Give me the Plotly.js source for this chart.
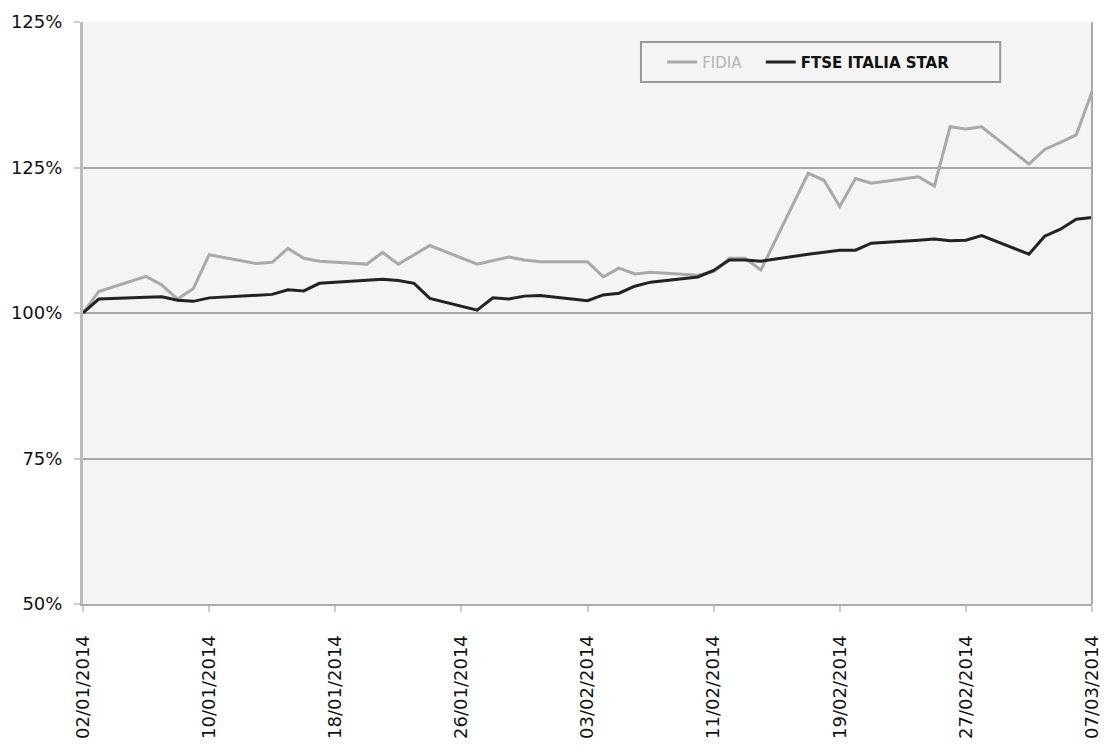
<!DOCTYPE html>
<html>
<head>
<meta charset="utf-8">
<script src="https://cdn.plot.ly/plotly-3.0.1.min.js"></script>
<style>
html,body{margin:0;padding:0;background:#ffffff;}
#chart{width:1107px;height:756px;}
</style>
</head>
<body>
<div id="chart"></div>
<script>
const dates = [
 "2014-01-02","2014-01-03","2014-01-06","2014-01-07","2014-01-08","2014-01-09","2014-01-10",
 "2014-01-13","2014-01-14","2014-01-15","2014-01-16","2014-01-17",
 "2014-01-20","2014-01-21","2014-01-22","2014-01-23","2014-01-24",
 "2014-01-27","2014-01-28","2014-01-29","2014-01-30","2014-01-31",
 "2014-02-03","2014-02-04","2014-02-05","2014-02-06","2014-02-07",
 "2014-02-10","2014-02-11","2014-02-12","2014-02-13","2014-02-14",
 "2014-02-17","2014-02-18","2014-02-19","2014-02-20","2014-02-21",
 "2014-02-24","2014-02-25","2014-02-26","2014-02-27","2014-02-28",
 "2014-03-03","2014-03-04","2014-03-05","2014-03-06","2014-03-07"
];
const fidia = [
 100.0,103.7,106.3,104.8,102.4,104.2,110.0,
 108.5,108.7,111.1,109.4,108.9,
 108.4,110.4,108.4,110.0,111.6,
 108.4,109.0,109.6,109.1,108.8,
 108.8,106.2,107.7,106.7,107.0,
 106.5,107.1,109.4,109.4,107.4,
 124.0,122.8,118.3,123.1,122.3,
 123.4,121.8,132.0,131.6,132.0,
 125.6,128.1,129.3,130.6,138.0
];
const ftseStar = [
 100.0,102.4,102.7,102.8,102.2,102.0,102.6,
 103.1,103.2,104.0,103.8,105.1,
 105.6,105.8,105.6,105.1,102.5,
 100.5,102.6,102.4,102.9,103.0,
 102.1,103.1,103.4,104.6,105.3,
 106.2,107.3,109.1,109.1,108.9,
 110.1,110.5,110.8,110.8,112.0,
 112.5,112.7,112.4,112.5,113.3,
 110.1,113.2,114.4,116.1,116.4
];
const seriesNames = ["FIDIA","FTSE ITALIA STAR"];
const yTickVals = [50,75,100,125,150];
const yTickText = ["50%","75%","100%","125%","125%"];

const FONT = "DejaVu Sans, sans-serif";
const NB = "\u00A0";

const traces = [
 {x: dates, y: fidia, type: "scatter", mode: "lines",
  name: '<span style="color:#b4b4b4">' + seriesNames[0] + '</span>' + NB + NB + NB,
  line: {color: "#a9a9a9", width: 3}},
 {x: dates, y: ftseStar, type: "scatter", mode: "lines",
  name: '<b>' + seriesNames[1] + '</b>',
  line: {color: "#222222", width: 3}}
];

const layout = {
 width: 1107, height: 756,
 margin: {l: 83, r: 15, t: 22, b: 152, pad: 0},
 paper_bgcolor: "#ffffff",
 plot_bgcolor: "#f4f4f4",
 font: {family: FONT, size: 18, color: "#111111"},
 showlegend: true,
 legend: {
  orientation: "h", x: 0.574, y: 0.931, xanchor: "left", yanchor: "middle",
  bgcolor: "rgba(0,0,0,0)", borderwidth: 0,
  font: {family: FONT, size: 15, color: "#111111"},
  traceorder: "normal"
 },
 xaxis: {
  type: "date",
  range: ["2014-01-02", "2014-03-07"],
  tick0: "2014-01-02", dtick: 8 * 86400000,
  tickformat: "%d/%m/%Y", tickangle: -90,
  ticks: "outside", ticklen: 6, tickcolor: "#cccccc", tickwidth: 2,
  ticklabelstandoff: 16,
  showgrid: false, zeroline: false,
  showline: true, linecolor: "#aaaaaa", linewidth: 2, mirror: false,
  tickfont: {family: FONT, size: 18, color: "#111111"}
 },
 yaxis: {
  range: [50, 150],
  tickvals: yTickVals, ticktext: yTickText,
  ticks: "outside", ticklen: 6, tickcolor: "#cccccc", tickwidth: 2,
  ticklabelstandoff: 8,
  showgrid: true, gridcolor: "#a8a8a8", gridwidth: 2,
  zeroline: false,
  showline: true, linecolor: "#bbbbbb", linewidth: 3, mirror: false,
  tickfont: {family: FONT, size: 18, color: "#111111"}
 },
 shapes: [
  {type: "line", xref: "paper", yref: "paper", x0: 1, x1: 1, y0: 0, y1: 1,
   line: {color: "#aaaaaa", width: 2}},
  {type: "rect", xref: "paper", yref: "paper", x0: 0.553, x1: 0.909, y0: 0.897, y1: 0.9656,
   line: {color: "#999999", width: 2}, fillcolor: "rgba(0,0,0,0)", layer: "above"}
 ]
};

Plotly.newPlot("chart", traces, layout, {displayModeBar: false, staticPlot: true});
</script>
</body>
</html>
